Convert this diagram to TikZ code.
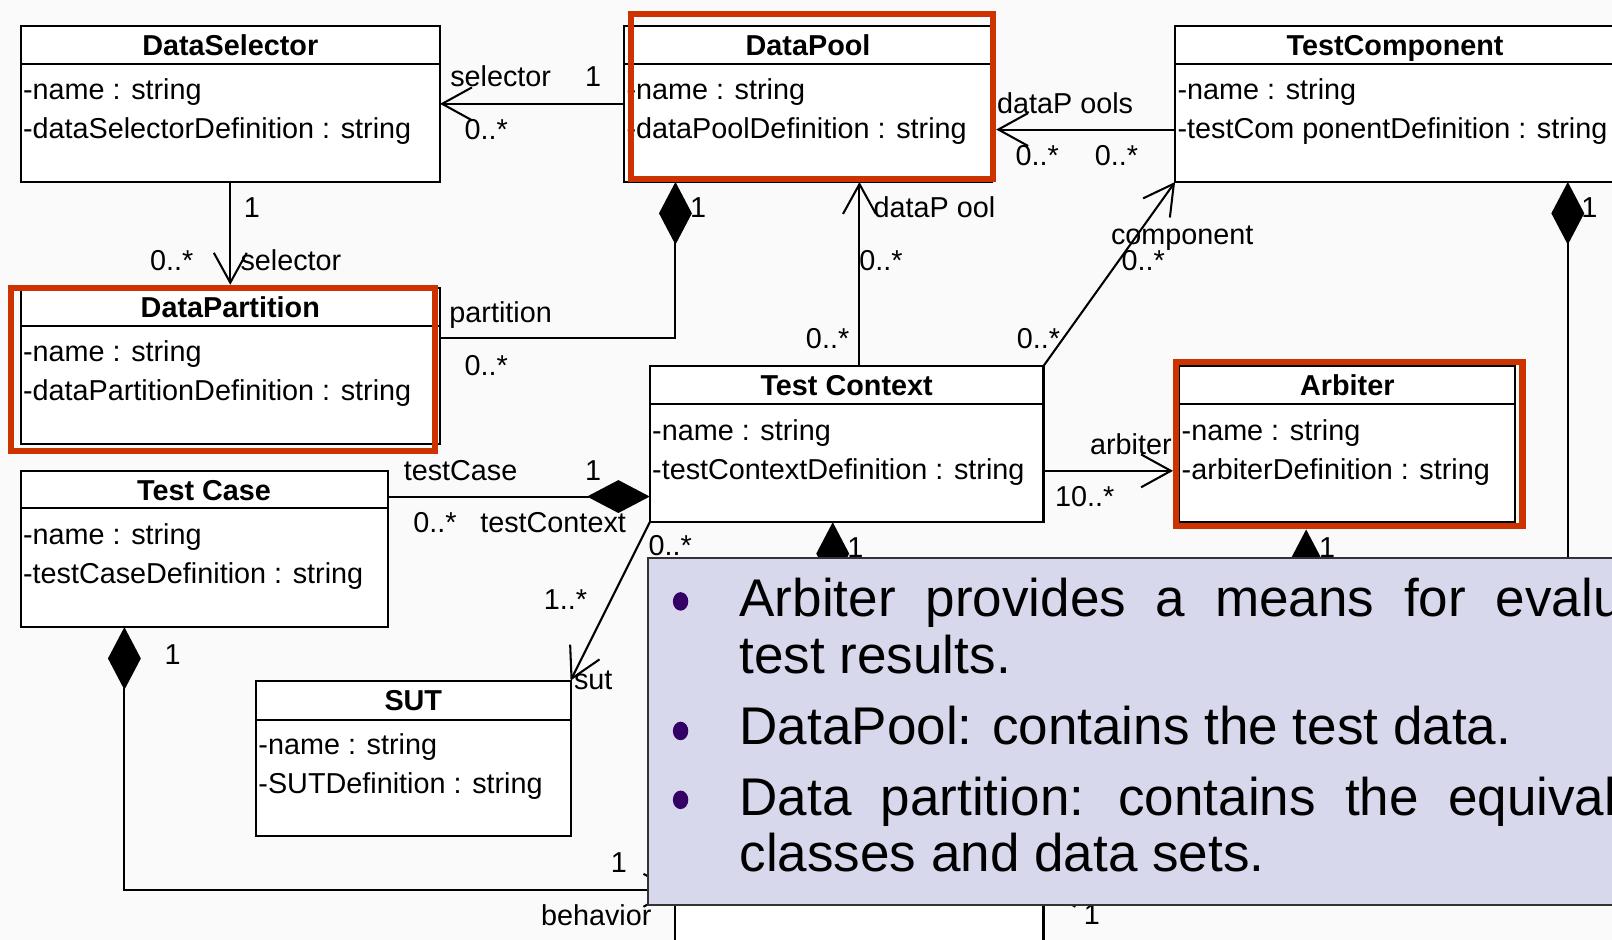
\documentclass[tikz,border=0pt]{standalone}
\usepackage{fontspec}
\setmainfont{Liberation Sans}
\usetikzlibrary{arrows.meta,calc,fit}
\definecolor{hlred}{RGB}{204,51,0}
\definecolor{notefill}{RGB}{216,216,236}
\definecolor{bulletc}{RGB}{51,0,102}
\definecolor{bgc}{RGB}{250,250,250}
\tikzset{
 clsbox/.style={draw=black, fill=white, line width=1pt, inner sep=0pt, outer sep=0pt},
 clsline/.style={line width=1pt},
 ttl/.style={anchor=base, font=\fontsize{14}{16}\selectfont\bfseries, inner sep=0pt},
 attr/.style={anchor=base west, font=\fontsize{14}{16}\selectfont, inner sep=0pt},
 lbl/.style={anchor=base, font=\fontsize{14}{16}\selectfont, inner sep=0pt},
 hl/.style={draw=hlred, line width=3pt, inner sep=0pt},
 assoc/.style={line width=1pt, -{Straight Barb[length=14.5pt,width=16pt]}},
 comp/.style={line width=1pt, {Diamond[length=30.5pt,width=16pt]}-},
 compassoc/.style={line width=1pt, {Diamond[length=30.5pt,width=16pt]}-{Straight Barb[length=14.5pt,width=16pt]}},
 note/.style={draw=black!80, fill=notefill, line width=0.8pt, inner sep=0pt},
 ntxt/.style={anchor=base west, font=\fontsize{25.8}{30}\selectfont, inner sep=0pt},
}
\newcommand\UMLcls[9]{%
 \node[clsbox, fit={(#2,#3)(#4,#5)}] (#1) {};
 \draw[clsline] ($(#1.north west)+(0,#9)$) -- ($(#1.north east)+(0,#9)$);
 \node[ttl] at ($(#1.north)+(0,29)$) {#6};
 \node[attr] at ($(#1.north west)+(2,72)$) {#7};
 \node[attr] at ($(#1.north west)+(2,110)$) {#8};
}
\begin{document}
\begin{tikzpicture}[x=0.5pt, y=-0.5pt]
\useasboundingbox (0,0) rectangle (1568,914);
\clip (0,0) rectangle (1568,914);
\fill[bgc] (0,0) rectangle (1568,914);

% classes
\UMLcls{ds}{20}{25}{428}{177}{DataSelector}{-name : string}{-dataSelectorDefinition : string}{37}
\UMLcls{dp}{607}{25}{965}{177}{DataPool}{-name : string}{-dataPoolDefinition : string}{37}
\UMLcls{tcomp}{1143}{25}{1571}{177}{TestComponent}{-name : string}{-testCom ponentDefinition : string}{37}
\UMLcls{dpart}{20}{280}{428}{432}{DataPartition}{-name : string}{-dataPartitionDefinition : string}{37}
\UMLcls{ctx}{632}{356}{1015}{508}{Test Context}{-name : string}{-testContextDefinition : string}{37}
\UMLcls{arb}{1147}{356}{1474}{508}{Arbiter}{-name : string}{-arbiterDefinition : string}{37}
\UMLcls{tcase}{20}{458}{377}{610}{Test Case}{-name : string}{-testCaseDefinition : string}{36}
\UMLcls{sut}{249}{662}{555}{813}{SUT}{-name : string}{-SUTDefinition : string}{38}
\node[clsbox, fit={(657,850)(1015,1000)}] (beh) {};

% highlights
\node[hl, fit={(614,14)(966,174)}] (dpH) {};
\node[hl, fit={(11,280)(423,439)}] (dpartH) {};
\node[hl, fit={(1144,352)(1481,512)}] (arbH) {};

% connectors
\draw[assoc] (dp.west |- ds.east) -- (ds.east);
\draw[assoc] (ds.south) -- (ds.south |- dpartH.north);
\coordinate (c3) at ($(dp.south west)+(50,0)$);
\draw[comp] (c3) |- ($(dpart.east)+(0,-27)$);
\coordinate (c4) at ($(tcomp.west)+(0,25)$);
\draw[assoc] (c4) -- (c4 -| dpH.east);
\coordinate (c5) at ($(ctx.north)+(12.5,0)$);
\draw[assoc] (c5) -- (c5 |- dp.south);
\draw[assoc] (ctx.north east) -- (tcomp.south west);
\coordinate (c7) at ($(ctx.east)+(0,26)$);
\draw[assoc] (c7) -- (c7 -| arbH.west);
\coordinate (c8) at ($(ctx.west)+(0,51)$);
\draw[comp] (c8) -- (c8 -| tcase.east);
\draw[assoc] (ctx.south west) -- (sut.north east);
\coordinate (c10) at ($(tcase.south west)+(101,0)$);
\coordinate (c10b) at ($(beh.north west)+(0,16)$);
\draw[compassoc] (c10) |- (c10b);
\coordinate (c11) at ($(ctx.south west)+(178,0)$);
\draw[comp] (c11) -- (c11 |- beh.north);
\coordinate (c12) at ($(arbH.south)+(-42,0)$);
\draw[compassoc] (c12) |- (c10b -| beh.east);
\coordinate (c13) at ($(tcomp.south west)+(382,0)$);
\coordinate (c13b) at ($(c13)+(0,680)$);
\draw[comp] (c13) -- (c13b);

% labels
\node[lbl] at (487,84) {selector};
\node[lbl] at (577,84) {1};
\node[lbl] at (473,136) {0..*};
\node[lbl] at (245,212) {1};
\node[lbl] at (167,263) {0..*};
\node[lbl] at (283,263) {selector};
\node[lbl] at (679,212) {1};
\node[lbl] at (487,314) {partition};
\node[lbl] at (473,365) {0..*};
\node[lbl] at (1036,110) {dataP ools};
\node[lbl] at (1009,161) {0..*};
\node[lbl] at (1086,161) {0..*};
\node[lbl] at (909,212) {dataP ool};
\node[lbl] at (857,263) {0..*};
\node[lbl] at (805,339) {0..*};
\node[lbl] at (1150,238) {component};
\node[lbl] at (1112,263) {0..*};
\node[lbl] at (1010,339) {0..*};
\node[lbl] at (1100,442) {arbiter};
\node[lbl] at (1055,493) {10..*};
\node[lbl] at (448,467) {testCase};
\node[lbl] at (577,467) {1};
\node[lbl] at (423,518) {0..*};
\node[lbl] at (538,518) {testContext};
\node[lbl] at (652,540) {0..*};
\node[lbl] at (550,593) {1..*};
\node[lbl] at (577,671) {sut};
\node[lbl] at (832,542) {1};
\node[lbl] at (1291,542) {1};
\node[lbl] at (1546,212) {1};
\node[lbl] at (168,646) {1};
\node[lbl] at (602,849) {1};
\node[lbl] at (580,900) {behavior};
\node[lbl] at (1062,899) {1};

% note overlay
\node[note, fit={(630,543)(1620,880)}] (note) {};
\fill[bulletc] (662,585) ellipse [x radius=3.75pt, y radius=4.5pt];
\fill[bulletc] (662,711) ellipse [x radius=3.75pt, y radius=4.5pt];
\fill[bulletc] (662,778) ellipse [x radius=3.75pt, y radius=4.5pt];
\node[ntxt] (n1) at (719,600) {\spaceskip=14.5pt\relax Arbiter provides a means for evaluating};
\node[ntxt] (n2) at (719,655) {test results.};
\node[ntxt] (n3) at (719,724) {DataPool: contains the test data.};
\node[ntxt] (n4) at (719,793) {\spaceskip=14.2pt\relax Data partition: contains the equivalence};
\node[ntxt] (n5) at (719,848) {classes and data sets.};
\end{tikzpicture}
\end{document}
